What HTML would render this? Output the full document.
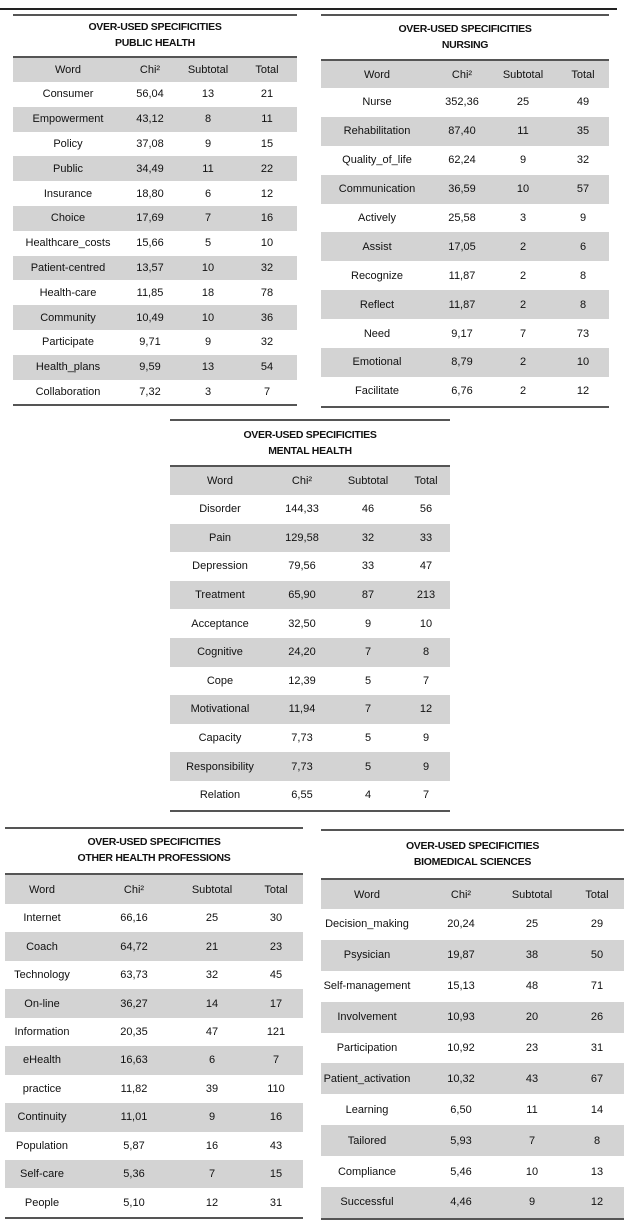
<!DOCTYPE html>
<html><head><meta charset="utf-8"><style>
body{margin:0;width:630px;height:1227px;background:#fff;position:relative;font-family:"Liberation Sans",sans-serif;font-size:11px;color:#111;overflow:hidden}
.tb{position:absolute;border-top:2px solid #555}
.ttl{display:block;text-align:center;font-weight:bold;font-size:10.5px;line-height:16px;letter-spacing:-0.3px;border-bottom:2px solid #555;box-sizing:border-box}
.r{position:relative}
.g{background:#d3d3d3}
.r span{position:absolute;top:0;bottom:0;width:120px;display:flex;align-items:center;justify-content:center;white-space:nowrap}
.bot{border-bottom:2px solid #555}
.line{position:absolute;left:0;top:8px;width:617px;height:0;border-top:2px solid #222}
</style></head><body>
<div class="line"></div>

<!-- T1 -->
<div class="tb" style="left:13px;top:14px;width:284px">
<div class="ttl" style="height:42px;padding-top:3px">OVER-USED SPECIFICITIES<br>PUBLIC HEALTH</div>
<div class="bot">
<div class="r g" style="height:24px"><span style="left:-5px">Word</span><span style="left:77px">Chi²</span><span style="left:135px">Subtotal</span><span style="left:194px">Total</span></div>
<div class="r" style="height:24.8px"><span style="left:-5px">Consumer</span><span style="left:77px">56,04</span><span style="left:135px">13</span><span style="left:194px">21</span></div>
<div class="r g" style="height:24.8px"><span style="left:-5px">Empowerment</span><span style="left:77px">43,12</span><span style="left:135px">8</span><span style="left:194px">11</span></div>
<div class="r" style="height:24.8px"><span style="left:-5px">Policy</span><span style="left:77px">37,08</span><span style="left:135px">9</span><span style="left:194px">15</span></div>
<div class="r g" style="height:24.8px"><span style="left:-5px">Public</span><span style="left:77px">34,49</span><span style="left:135px">11</span><span style="left:194px">22</span></div>
<div class="r" style="height:24.8px"><span style="left:-5px">Insurance</span><span style="left:77px">18,80</span><span style="left:135px">6</span><span style="left:194px">12</span></div>
<div class="r g" style="height:24.8px"><span style="left:-5px">Choice</span><span style="left:77px">17,69</span><span style="left:135px">7</span><span style="left:194px">16</span></div>
<div class="r" style="height:24.8px"><span style="left:-5px">Healthcare_costs</span><span style="left:77px">15,66</span><span style="left:135px">5</span><span style="left:194px">10</span></div>
<div class="r g" style="height:24.8px"><span style="left:-5px">Patient-centred</span><span style="left:77px">13,57</span><span style="left:135px">10</span><span style="left:194px">32</span></div>
<div class="r" style="height:24.8px"><span style="left:-5px">Health-care</span><span style="left:77px">11,85</span><span style="left:135px">18</span><span style="left:194px">78</span></div>
<div class="r g" style="height:24.8px"><span style="left:-5px">Community</span><span style="left:77px">10,49</span><span style="left:135px">10</span><span style="left:194px">36</span></div>
<div class="r" style="height:24.8px"><span style="left:-5px">Participate</span><span style="left:77px">9,71</span><span style="left:135px">9</span><span style="left:194px">32</span></div>
<div class="r g" style="height:24.8px"><span style="left:-5px">Health_plans</span><span style="left:77px">9,59</span><span style="left:135px">13</span><span style="left:194px">54</span></div>
<div class="r" style="height:24.8px"><span style="left:-5px">Collaboration</span><span style="left:77px">7,32</span><span style="left:135px">3</span><span style="left:194px">7</span></div>
</div></div>

<!-- T2 -->
<div class="tb" style="left:321px;top:14px;width:288px">
<div class="ttl" style="height:45px;padding-top:5px">OVER-USED SPECIFICITIES<br>NURSING</div>
<div class="bot">
<div class="r g" style="height:27px"><span style="left:-4px">Word</span><span style="left:81px">Chi²</span><span style="left:142px">Subtotal</span><span style="left:202px">Total</span></div>
<div class="r" style="height:28.9px"><span style="left:-4px">Nurse</span><span style="left:81px">352,36</span><span style="left:142px">25</span><span style="left:202px">49</span></div>
<div class="r g" style="height:28.9px"><span style="left:-4px">Rehabilitation</span><span style="left:81px">87,40</span><span style="left:142px">11</span><span style="left:202px">35</span></div>
<div class="r" style="height:28.9px"><span style="left:-4px">Quality_of_life</span><span style="left:81px">62,24</span><span style="left:142px">9</span><span style="left:202px">32</span></div>
<div class="r g" style="height:28.9px"><span style="left:-4px">Communication</span><span style="left:81px">36,59</span><span style="left:142px">10</span><span style="left:202px">57</span></div>
<div class="r" style="height:28.9px"><span style="left:-4px">Actively</span><span style="left:81px">25,58</span><span style="left:142px">3</span><span style="left:202px">9</span></div>
<div class="r g" style="height:28.9px"><span style="left:-4px">Assist</span><span style="left:81px">17,05</span><span style="left:142px">2</span><span style="left:202px">6</span></div>
<div class="r" style="height:28.9px"><span style="left:-4px">Recognize</span><span style="left:81px">11,87</span><span style="left:142px">2</span><span style="left:202px">8</span></div>
<div class="r g" style="height:28.9px"><span style="left:-4px">Reflect</span><span style="left:81px">11,87</span><span style="left:142px">2</span><span style="left:202px">8</span></div>
<div class="r" style="height:28.9px"><span style="left:-4px">Need</span><span style="left:81px">9,17</span><span style="left:142px">7</span><span style="left:202px">73</span></div>
<div class="r g" style="height:28.9px"><span style="left:-4px">Emotional</span><span style="left:81px">8,79</span><span style="left:142px">2</span><span style="left:202px">10</span></div>
<div class="r" style="height:28.9px"><span style="left:-4px">Facilitate</span><span style="left:81px">6,76</span><span style="left:142px">2</span><span style="left:202px">12</span></div>
</div></div>

<!-- T3 -->
<div class="tb" style="left:170px;top:419px;width:280px">
<div class="ttl" style="height:46px;padding-top:6px">OVER-USED SPECIFICITIES<br>MENTAL HEALTH</div>
<div class="bot">
<div class="r g" style="height:28px"><span style="left:-10px">Word</span><span style="left:72px">Chi²</span><span style="left:138px">Subtotal</span><span style="left:196px">Total</span></div>
<div class="r" style="height:28.6px"><span style="left:-10px">Disorder</span><span style="left:72px">144,33</span><span style="left:138px">46</span><span style="left:196px">56</span></div>
<div class="r g" style="height:28.6px"><span style="left:-10px">Pain</span><span style="left:72px">129,58</span><span style="left:138px">32</span><span style="left:196px">33</span></div>
<div class="r" style="height:28.6px"><span style="left:-10px">Depression</span><span style="left:72px">79,56</span><span style="left:138px">33</span><span style="left:196px">47</span></div>
<div class="r g" style="height:28.6px"><span style="left:-10px">Treatment</span><span style="left:72px">65,90</span><span style="left:138px">87</span><span style="left:196px">213</span></div>
<div class="r" style="height:28.6px"><span style="left:-10px">Acceptance</span><span style="left:72px">32,50</span><span style="left:138px">9</span><span style="left:196px">10</span></div>
<div class="r g" style="height:28.6px"><span style="left:-10px">Cognitive</span><span style="left:72px">24,20</span><span style="left:138px">7</span><span style="left:196px">8</span></div>
<div class="r" style="height:28.6px"><span style="left:-10px">Cope</span><span style="left:72px">12,39</span><span style="left:138px">5</span><span style="left:196px">7</span></div>
<div class="r g" style="height:28.6px"><span style="left:-10px">Motivational</span><span style="left:72px">11,94</span><span style="left:138px">7</span><span style="left:196px">12</span></div>
<div class="r" style="height:28.6px"><span style="left:-10px">Capacity</span><span style="left:72px">7,73</span><span style="left:138px">5</span><span style="left:196px">9</span></div>
<div class="r g" style="height:28.6px"><span style="left:-10px">Responsibility</span><span style="left:72px">7,73</span><span style="left:138px">5</span><span style="left:196px">9</span></div>
<div class="r" style="height:28.6px"><span style="left:-10px">Relation</span><span style="left:72px">6,55</span><span style="left:138px">4</span><span style="left:196px">7</span></div>
</div></div>

<!-- T4 -->
<div class="tb" style="left:5px;top:827px;width:298px">
<div class="ttl" style="height:46px;padding-top:5px">OVER-USED SPECIFICITIES<br>OTHER HEALTH PROFESSIONS</div>
<div class="bot">
<div class="r g" style="height:29px"><span style="left:-23px">Word</span><span style="left:69px">Chi²</span><span style="left:147px">Subtotal</span><span style="left:211px">Total</span></div>
<div class="r" style="height:28.45px"><span style="left:-23px">Internet</span><span style="left:69px">66,16</span><span style="left:147px">25</span><span style="left:211px">30</span></div>
<div class="r g" style="height:28.45px"><span style="left:-23px">Coach</span><span style="left:69px">64,72</span><span style="left:147px">21</span><span style="left:211px">23</span></div>
<div class="r" style="height:28.45px"><span style="left:-23px">Technology</span><span style="left:69px">63,73</span><span style="left:147px">32</span><span style="left:211px">45</span></div>
<div class="r g" style="height:28.45px"><span style="left:-23px">On-line</span><span style="left:69px">36,27</span><span style="left:147px">14</span><span style="left:211px">17</span></div>
<div class="r" style="height:28.45px"><span style="left:-23px">Information</span><span style="left:69px">20,35</span><span style="left:147px">47</span><span style="left:211px">121</span></div>
<div class="r g" style="height:28.45px"><span style="left:-23px">eHealth</span><span style="left:69px">16,63</span><span style="left:147px">6</span><span style="left:211px">7</span></div>
<div class="r" style="height:28.45px"><span style="left:-23px">practice</span><span style="left:69px">11,82</span><span style="left:147px">39</span><span style="left:211px">110</span></div>
<div class="r g" style="height:28.45px"><span style="left:-23px">Continuity</span><span style="left:69px">11,01</span><span style="left:147px">9</span><span style="left:211px">16</span></div>
<div class="r" style="height:28.45px"><span style="left:-23px">Population</span><span style="left:69px">5,87</span><span style="left:147px">16</span><span style="left:211px">43</span></div>
<div class="r g" style="height:28.45px"><span style="left:-23px">Self-care</span><span style="left:69px">5,36</span><span style="left:147px">7</span><span style="left:211px">15</span></div>
<div class="r" style="height:28.45px"><span style="left:-23px">People</span><span style="left:69px">5,10</span><span style="left:147px">12</span><span style="left:211px">31</span></div>
</div></div>

<!-- T5 -->
<div class="tb" style="left:321px;top:829px;width:303px">
<div class="ttl" style="height:49px;padding-top:7px">OVER-USED SPECIFICITIES<br>BIOMEDICAL SCIENCES</div>
<div class="bot">
<div class="r g" style="height:29px"><span style="left:-14px">Word</span><span style="left:80px">Chi²</span><span style="left:151px">Subtotal</span><span style="left:216px">Total</span></div>
<div class="r" style="height:30.9px"><span style="left:-14px">Decision_making</span><span style="left:80px">20,24</span><span style="left:151px">25</span><span style="left:216px">29</span></div>
<div class="r g" style="height:30.9px"><span style="left:-14px">Psysician</span><span style="left:80px">19,87</span><span style="left:151px">38</span><span style="left:216px">50</span></div>
<div class="r" style="height:30.9px"><span style="left:-14px">Self-management</span><span style="left:80px">15,13</span><span style="left:151px">48</span><span style="left:216px">71</span></div>
<div class="r g" style="height:30.9px"><span style="left:-14px">Involvement</span><span style="left:80px">10,93</span><span style="left:151px">20</span><span style="left:216px">26</span></div>
<div class="r" style="height:30.9px"><span style="left:-14px">Participation</span><span style="left:80px">10,92</span><span style="left:151px">23</span><span style="left:216px">31</span></div>
<div class="r g" style="height:30.9px"><span style="left:-14px">Patient_activation</span><span style="left:80px">10,32</span><span style="left:151px">43</span><span style="left:216px">67</span></div>
<div class="r" style="height:30.9px"><span style="left:-14px">Learning</span><span style="left:80px">6,50</span><span style="left:151px">11</span><span style="left:216px">14</span></div>
<div class="r g" style="height:30.9px"><span style="left:-14px">Tailored</span><span style="left:80px">5,93</span><span style="left:151px">7</span><span style="left:216px">8</span></div>
<div class="r" style="height:30.9px"><span style="left:-14px">Compliance</span><span style="left:80px">5,46</span><span style="left:151px">10</span><span style="left:216px">13</span></div>
<div class="r g" style="height:30.9px"><span style="left:-14px">Successful</span><span style="left:80px">4,46</span><span style="left:151px">9</span><span style="left:216px">12</span></div>
</div></div>
</body></html>
